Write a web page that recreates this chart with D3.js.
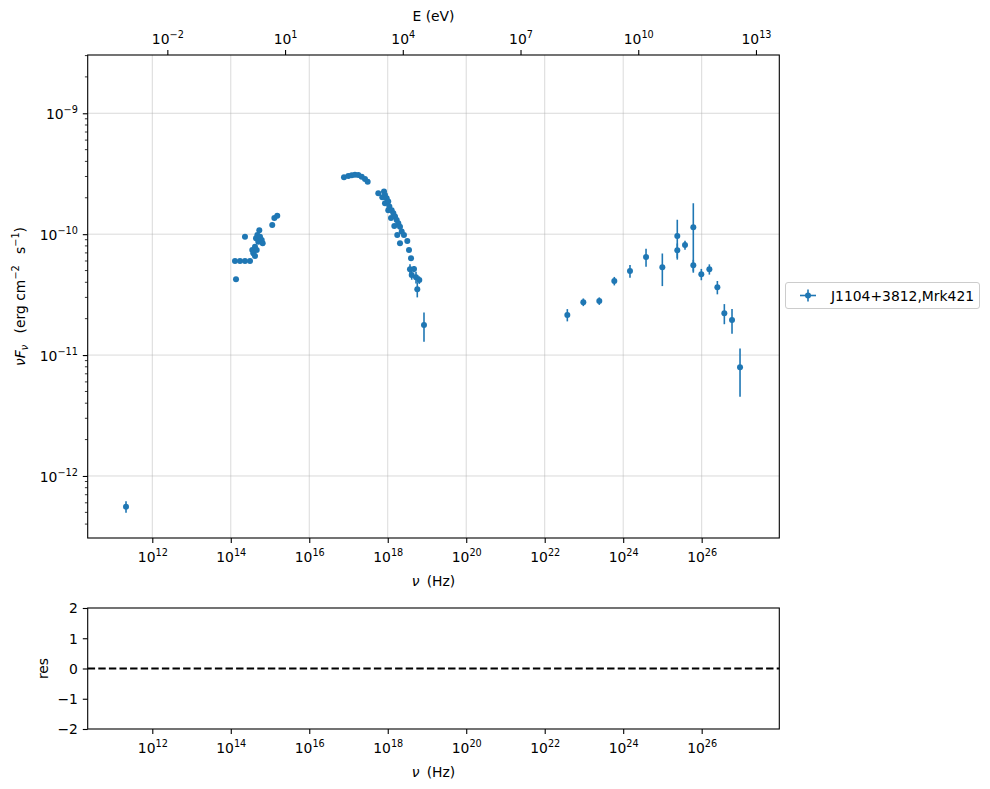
<!DOCTYPE html>
<html><head><meta charset="utf-8">
<script src="https://cdn.jsdelivr.net/npm/d3@7"></script>
<style>body{margin:0;background:#fff}svg{display:block;font-family:"DejaVu Sans",sans-serif}</style>
</head><body><svg id="c" width="990" height="789"></svg>
<script>
// ---- data ----
const radioNu = [2.14e11];
const radioFlux = [5.57e-13];
const radioErr = [0.6e-13];

const optNu = [1.28e14,1.36e14,1.72e14,2.30e14,3.09e14,2.30e14,3.53e14,3.75e14,4.14e14,4.14e14,4.40e14,4.58e14,4.74e14,5.03e14,5.33e14,5.56e14,6.14e14,6.50e14,1.14e15,1.29e15,1.53e15];
const optFlux = [6.0e-11,4.24e-11,6.0e-11,6.0e-11,6.0e-11,9.53e-11,7.40e-11,6.95e-11,7.88e-11,6.60e-11,9.25e-11,7.40e-11,9.84e-11,8.67e-11,1.08e-10,9.53e-11,8.95e-11,8.41e-11,1.19e-10,1.36e-10,1.42e-10];

const xrayNu = [7.67e16,9.88e16,1.21e17,1.46e17,1.78e17,2.17e17,2.63e17,3.08e17,5.74e17,8.03e17,8.51e17,7.26e17,9.40e17,8.51e17,1.03e18,1.10e18,1.03e18,1.26e18,1.39e18,1.21e18,1.53e18,1.69e18,1.47e18,1.86e18,2.05e18,2.27e18,1.75e18,2.59e18,3.15e18,2.05e18,3.48e18,3.92e18,3.69e18,4.67e18,4.08e18,5.25e18,6.37e18,5.66e18,8.39e18];
const xrayFlux = [2.96e-10,3.03e-10,3.07e-10,3.10e-10,3.09e-10,2.99e-10,2.86e-10,2.72e-10,2.18e-10,2.25e-10,2.11e-10,2.02e-10,1.98e-10,1.80e-10,1.86e-10,1.69e-10,1.58e-10,1.58e-10,1.49e-10,1.36e-10,1.40e-10,1.31e-10,1.17e-10,1.23e-10,1.15e-10,1.05e-10,9.84e-11,9.84e-11,8.79e-11,8.41e-11,7.40e-11,6.32e-11,5.13e-11,5.15e-11,4.60e-11,4.40e-11,4.18e-11,3.50e-11,1.77e-11];
const xrayErr = [0,0,0,0,0,0,0,0,0,0,0,0,0,0,0,0,0,0,0,0,0,0,0,0,0,0,0,0,0,0,0,0,0.5e-11,0.3e-11,0.4e-11,0.5e-11,0.3e-11,0.5e-11,0.48e-11];

const gammaNu = [3.77e22,9.64e22,2.46e23,5.94e23,1.49e24,3.82e24,9.94e24,2.39e25,2.39e25,3.76e25,6.12e25,6.12e25,9.79e25,1.57e26,2.51e26,3.78e26,5.93e26,9.49e26];
const gammaFlux = [2.15e-11,2.74e-11,2.80e-11,4.10e-11,4.96e-11,6.47e-11,5.32e-11,9.66e-11,7.36e-11,8.14e-11,1.14e-10,5.53e-11,4.66e-11,5.13e-11,3.64e-11,2.22e-11,1.95e-11,7.93e-12];
const gammaErr = [0.25e-11,0.2e-11,0.2e-11,0.33e-11,0.6e-11,1.1e-11,1.6e-11,3.5e-11,1.0e-11,0.7e-11,6.6e-11,0.6e-11,0.5e-11,0.5e-11,0.46e-11,0.42e-11,0.45e-11,3.4e-12];

const xTickExp = [12,14,16,18,20,22,24,26];
const eTickExp = [-2,1,4,7,10,13];
const yTickExp = [-12,-11,-10,-9];
const resTicks = [-2,-1,0,1,2];
const seriesLabel = "J1104+3812,Mrk421";
const hPlanck = 4.135667e-15; // eV s

// ---- build points ----
function pts(nu, f, e){ return nu.map((v,i)=>({nu:v, f:f[i], e: e ? e[i] : 0})); }
const data = [].concat(pts(radioNu,radioFlux,radioErr), pts(optNu,optFlux,null), pts(xrayNu,xrayFlux,xrayErr), pts(gammaNu,gammaFlux,gammaErr));

// ---- layout ----
const L=87.7, R=779.3, T=55, B=538, RT=608, RB=729;
const FS = 13.9, COL = "#1f77b4";
const svg = d3.select("#c");
svg.append("rect").attr("width",990).attr("height",789).attr("fill","#fff");

const x = d3.scaleLog().domain([Math.pow(10,10.354), Math.pow(10,27.978)]).range([L,R]);
const y = d3.scaleLog().domain([Math.pow(10,-12.513), Math.pow(10,-8.518)]).range([B,T]);
const xE = d3.scaleLog().domain(x.domain().map(v=>v*hPlanck)).range([L,R]);
const yr = d3.scaleLinear().domain([-2,2]).range([RB,RT]);

const xTicks = xTickExp.map(e=>Math.pow(10,e));
const eTicks = eTickExp.map(e=>Math.pow(10,e));
const yTicks = yTickExp.map(e=>Math.pow(10,e));

function powLabel(sel){
  sel.each(function(d){
    const e = Math.round(Math.log10(d));
    const t = d3.select(this); t.text(null);
    t.append("tspan").text("10");
    t.append("tspan").attr("font-size","9.7px").attr("dy","-6").text(e<0 ? "\u2212"+(-e) : String(e));
  });
}

// ---- grid ----
const grid = svg.append("g").attr("stroke","#b0b0b0").attr("stroke-opacity",0.6).attr("stroke-width",0.8);
grid.selectAll(".gx").data(xTicks).join("line").attr("x1",d=>x(d)).attr("x2",d=>x(d)).attr("y1",T).attr("y2",B);
grid.selectAll(".gy").data(yTicks).join("line").attr("x1",L).attr("x2",R).attr("y1",d=>y(d)).attr("y2",d=>y(d));

// ---- data ----
svg.append("clipPath").attr("id","clip").append("rect").attr("x",L).attr("y",T).attr("width",R-L).attr("height",B-T);
const gd = svg.append("g").attr("clip-path","url(#clip)");
gd.selectAll(".eb").data(data.filter(d=>d.e>0)).join("line")
  .attr("x1",d=>x(d.nu)).attr("x2",d=>x(d.nu))
  .attr("y1",d=>y(d.f+d.e)).attr("y2",d=>y(Math.max(d.f-d.e,1e-14)))
  .attr("stroke",COL).attr("stroke-width",1.6);
gd.selectAll(".pt").data(data).join("circle")
  .attr("cx",d=>x(d.nu)).attr("cy",d=>y(d.f)).attr("r",3).attr("fill",COL);

// ---- axes main ----
function styleAxis(g){
  g.select(".domain").remove();
  g.selectAll(".tick line").attr("stroke","#000").attr("stroke-width",1.1);
  g.selectAll("text").attr("font-size",FS+"px").attr("fill","#000").attr("font-family","DejaVu Sans");
}
const axB = svg.append("g").attr("transform",`translate(0,${B})`)
  .call(d3.axisBottom(x).tickValues(xTicks).tickSize(4.9).tickSizeOuter(0));
styleAxis(axB);
axB.selectAll("text").attr("y",24).attr("dy",null).call(powLabel);

const axT = svg.append("g").attr("transform",`translate(0,${T})`)
  .call(d3.axisTop(xE).tickValues(eTicks).tickSize(4.9).tickSizeOuter(0));
styleAxis(axT);
axT.selectAll("text").attr("y",-11).attr("dy",null).call(powLabel);

const axL = svg.append("g").attr("transform",`translate(${L},0)`)
  .call(d3.axisLeft(y).tickValues(yTicks).tickSize(4.9).tickSizeOuter(0));
styleAxis(axL);
axL.selectAll("text").attr("x",-9.8).attr("dy",null).attr("y",5.5).call(powLabel);

// minor y ticks
const minor = [];
for (let e=-13; e<=-9; e++) for (let k=2;k<=9;k++){ const v=k*Math.pow(10,e); if (v>y.domain()[0] && v<y.domain()[1]) minor.push(v); }
svg.append("g").selectAll("line").data(minor).join("line")
  .attr("x1",L).attr("x2",L-2.8).attr("y1",d=>y(d)).attr("y2",d=>y(d))
  .attr("stroke","#000").attr("stroke-width",0.8);

// frame
svg.append("rect").attr("x",L).attr("y",T).attr("width",R-L).attr("height",B-T)
  .attr("fill","none").attr("stroke","#000").attr("stroke-width",1.1);

// labels
svg.append("text").attr("x",(L+R)/2).attr("y",21).attr("text-anchor","middle").attr("font-size",FS+"px").text("E (eV)");
const xl = svg.append("text").attr("x",(L+R)/2).attr("y",586).attr("text-anchor","middle").attr("font-size",FS+"px");
xl.append("tspan").attr("font-style","italic").text("\u03BD");
xl.append("tspan").text("\u2009 (Hz)");

const yl = svg.append("text").attr("transform",`translate(25,${(T+B)/2}) rotate(-90)`).attr("text-anchor","middle").attr("font-size",FS+"px");
yl.append("tspan").attr("font-style","italic").text("\u03BDF");
yl.append("tspan").attr("font-style","italic").attr("font-size","9.7px").attr("dy","3").text("\u03BD");
yl.append("tspan").attr("dy","-3").text("\u2002 (erg cm");
yl.append("tspan").attr("font-size","9.7px").attr("dy","-6").text("\u22122");
yl.append("tspan").attr("dy","6").text("\u2002 s");
yl.append("tspan").attr("font-size","9.7px").attr("dy","-6").text("\u22121");
yl.append("tspan").attr("dy","6").text(")");

// ---- legend ----
const lg = svg.append("g");
lg.append("rect").attr("x",785.5).attr("y",282.5).attr("width",194).attr("height",26).attr("rx",2.5)
  .attr("fill","#fff").attr("fill-opacity",0.8).attr("stroke","#cccccc").attr("stroke-width",1);
lg.append("line").attr("x1",800).attr("x2",816).attr("y1",295.5).attr("y2",295.5).attr("stroke",COL).attr("stroke-width",1.6);
lg.append("line").attr("x1",808).attr("x2",808).attr("y1",289.5).attr("y2",301.5).attr("stroke",COL).attr("stroke-width",1.6);
lg.append("circle").attr("cx",808).attr("cy",295.5).attr("r",3).attr("fill",COL);
lg.append("text").attr("x",831).attr("y",300.5).attr("font-size",FS+"px").text(seriesLabel);

// ---- residual panel ----
const rB = svg.append("g").attr("transform",`translate(0,${RB})`)
  .call(d3.axisBottom(x).tickValues(xTicks).tickSize(4.9).tickSizeOuter(0));
styleAxis(rB);
rB.selectAll("text").attr("y",24).attr("dy",null).call(powLabel);

const rL = svg.append("g").attr("transform",`translate(${L},0)`)
  .call(d3.axisLeft(yr).tickValues(resTicks).tickSize(4.9).tickSizeOuter(0)
    .tickFormat(d=> d<0 ? "\u2212"+(-d) : String(d)));
styleAxis(rL);
rL.selectAll("text").attr("x",-9.8).attr("dy","0.35em");

svg.append("line").attr("x1",L).attr("x2",R).attr("y1",yr(0)).attr("y2",yr(0))
  .attr("stroke","#000").attr("stroke-width",2).attr("stroke-dasharray","7.4,3.2");

svg.append("rect").attr("x",L).attr("y",RT).attr("width",R-L).attr("height",RB-RT)
  .attr("fill","none").attr("stroke","#000").attr("stroke-width",1.1);

const rxl = svg.append("text").attr("x",(L+R)/2).attr("y",777).attr("text-anchor","middle").attr("font-size",FS+"px");
rxl.append("tspan").attr("font-style","italic").text("\u03BD");
rxl.append("tspan").text("\u2009 (Hz)");

svg.append("text").attr("transform",`translate(48,${(RT+RB)/2}) rotate(-90)`).attr("text-anchor","middle").attr("font-size",FS+"px").text("res");
</script></body></html>
